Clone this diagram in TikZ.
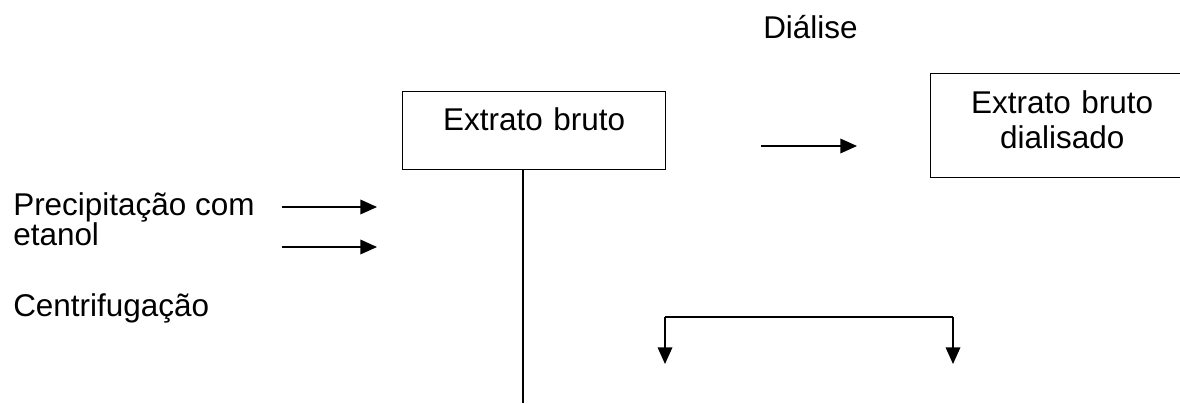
\documentclass[tikz,border=0pt]{standalone}
\usepackage{fontspec}
\setmainfont{Liberation Sans}
\usetikzlibrary{arrows.meta}
\begin{document}
\begin{tikzpicture}[x=0.75pt, y=-0.75pt,
  every node/.style={font=\fontsize{23.6pt}{22.5pt}\selectfont, inner sep=0pt},
  boxnode/.style={draw, line width=1pt, text width=197.25pt, align=center},
  link/.style={line width=1pt},
  arr/.style={link, -{Triangle[length=12.5pt, width=11pt]}}]
  % page frame
  \path[use as bounding box] (0,0) rectangle (1180,403);
  \clip (0,0) rectangle (1180,403);

  % captions (multi-line nodes are anchored on their last baseline)
  \node[anchor=base west] (dialise) at (763,39) {Diálise};
  \node[anchor=base west, align=left] (precip) at (13,245) {Precipitação com\\etanol};
  \node[anchor=base west] (centri) at (13,316) {Centrifugação};

  % boxes
  \node[boxnode, anchor=north west, text height=29.25pt, text depth=29.25pt]
    (bruto) at (402,91) {Extrato bruto};
  \node[boxnode, anchor=north west, text height=30pt, text depth=48pt,
    font=\fontsize{23.6pt}{26.25pt}\selectfont]
    (dial) at (930,73) {Extrato bruto\\dialisado};

  % free arrow ends
  \coordinate (dA) at (761,146);  \coordinate (dB) at (857,146);
  \coordinate (pA) at (282,207);  \coordinate (pB) at (377,207);
  \coordinate (eA) at (282,247);  \coordinate (eB) at (377,247);
  \coordinate (stem) at (523,403);
  \coordinate (sl) at (665,317);  \coordinate (sr) at (953,317);
  \coordinate (tl) at (665,364);  \coordinate (tr) at (953,364);

  % connectors
  \draw[arr] (dA) -- (dB);
  \draw[arr] (pA) -- (pB);
  \draw[arr] (eA) -- (eB);
  \draw[link] (bruto.south -| stem) -- (stem);
  \draw[link] (sl) -- (sr);
  \draw[arr] (sl) -- (tl);
  \draw[arr] (sr) -- (tr);
\end{tikzpicture}
\end{document}
